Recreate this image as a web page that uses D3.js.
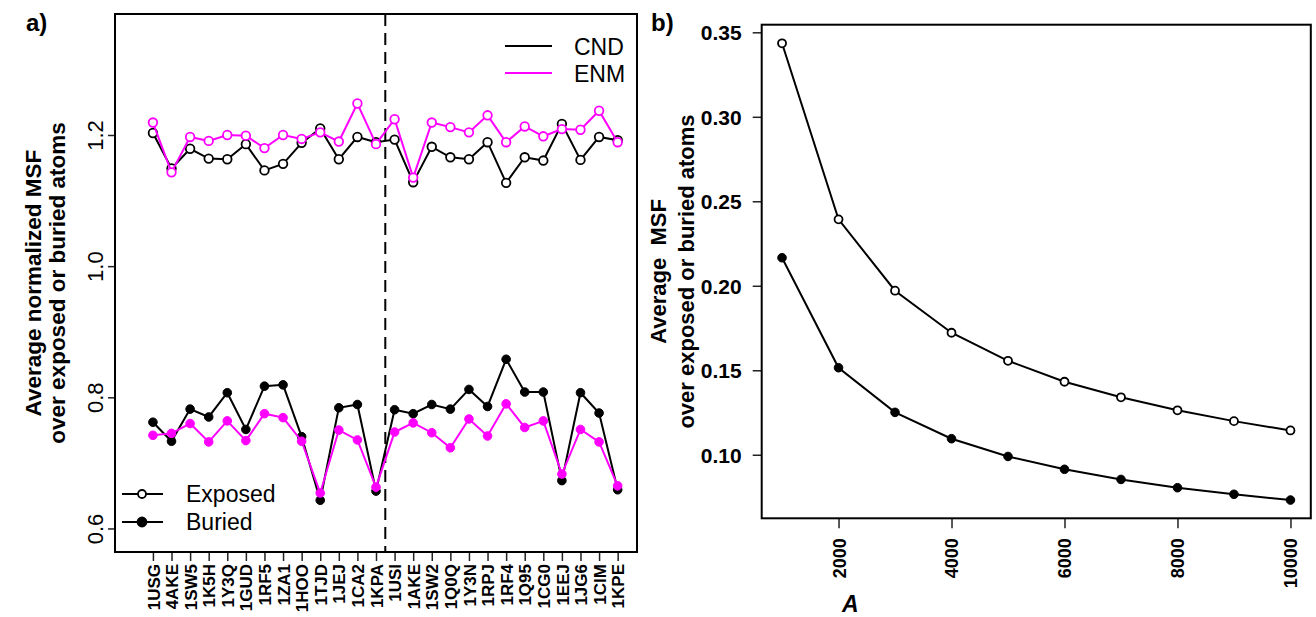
<!DOCTYPE html>
<html>
<head>
<meta charset="utf-8">
<script src="https://cdn.jsdelivr.net/npm/d3@7"></script>
<style>
  body { margin: 0; background: #fff; }
  svg { display: block; font-family: "Liberation Sans", Arial, sans-serif; }
</style>
</head>
<body>
<svg id="chart" width="1316" height="617"></svg>
<script>
// panel a) proteins, two groups split by the dashed line
const proteins = ["1USG", "4AKE", "1SW5", "1K5H", "1Y3Q", "1GUD", "1RF5", "1ZA1", "1HOO", "1TJD", "1JEJ", "1CA2", "1KPA",
                  "1USI", "1AKE", "1SW2", "1Q0Q", "1Y3N", "1RPJ", "1RF4", "1Q95", "1CG0", "1EEJ", "1JG6", "1CIM", "1KPE"];
const cndExposed = [1.203, 1.149, 1.179, 1.164, 1.163, 1.186, 1.146, 1.156, 1.188, 1.210, 1.163, 1.197, 1.189,
                    1.193, 1.128, 1.182, 1.166, 1.163, 1.189, 1.127, 1.166, 1.161, 1.217, 1.162, 1.197, 1.192];
const enmExposed = [1.219, 1.143, 1.197, 1.191, 1.200, 1.199, 1.180, 1.200, 1.194, 1.204, 1.190, 1.248, 1.186,
                    1.224, 1.135, 1.219, 1.212, 1.204, 1.230, 1.189, 1.213, 1.198, 1.209, 1.208, 1.237, 1.189];
const cndBuried = [0.762, 0.733, 0.782, 0.770, 0.807, 0.751, 0.817, 0.819, 0.740, 0.643, 0.784, 0.789, 0.657,
                   0.781, 0.775, 0.789, 0.782, 0.812, 0.786, 0.858, 0.808, 0.808, 0.673, 0.807, 0.776, 0.659];
const enmBuried = [0.742, 0.745, 0.760, 0.732, 0.764, 0.734, 0.775, 0.769, 0.733, 0.654, 0.750, 0.735, 0.663,
                   0.747, 0.761, 0.746, 0.723, 0.767, 0.741, 0.790, 0.754, 0.764, 0.683, 0.751, 0.732, 0.665];
const leftTicks = [0.6, 0.8, 1.0, 1.2];

// panel b) average MSF against A
const sizeA = [1000, 2000, 3000, 4000, 5000, 6000, 7000, 8000, 9000, 10000];
const msfExposed = [0.3435, 0.2393, 0.1971, 0.1722, 0.1556, 0.1432, 0.1340, 0.1263, 0.1199, 0.1144];
const msfBuried = [0.2166, 0.1515, 0.1251, 0.1095, 0.0990, 0.0914, 0.0854, 0.0805, 0.0766, 0.0732];
const rightYTicks = [0.10, 0.15, 0.20, 0.25, 0.30, 0.35];
const rightXTicks = [2000, 4000, 6000, 8000, 10000];

const MAGENTA = "#ff00ff";
const svg = d3.select("#chart");

function drawBox(x0, x1, y0, y1) {
    svg.append("rect")
        .attr("x", x0).attr("y", y0)
        .attr("width", x1 - x0).attr("height", y1 - y0)
        .attr("fill", "none").attr("stroke", "#000").attr("stroke-width", 2);
}

function styleAxis(g) {
    g.select(".domain").remove();
    g.selectAll(".tick line").attr("stroke", "#222").attr("stroke-width", 1.5);
    g.selectAll(".tick text").attr("fill", "#000");
}

function drawSeries(xs, ys, xScale, yScale, color, filled, r) {
    const pts = xs.map((x, i) => [xScale(x), yScale(ys[i])]);
    svg.append("path")
        .attr("d", d3.line()(pts))
        .attr("fill", "none").attr("stroke", color).attr("stroke-width", 2);
    svg.append("g").selectAll("circle")
        .data(pts)
        .enter().append("circle")
        .attr("cx", d => d[0]).attr("cy", d => d[1])
        .attr("r", r)
        .attr("fill", filled ? color : "#fff")
        .attr("stroke", color).attr("stroke-width", filled ? 1 : 1.8);
}

// ---------- panel a ----------
const L = { left: 115, right: 637, top: 14, bottom: 552 };
const xL = d3.scaleLinear().domain([-1.04, 27.04]).range([L.left, L.right]);
const yL = d3.scaleLinear().domain([0.5641, 1.3845]).range([L.bottom, L.top]);
const idx = proteins.map((p, i) => i + 1);

const axL = svg.append("g").attr("transform", `translate(${L.left},0)`)
    .call(d3.axisLeft(yL).tickValues(leftTicks).tickSize(7).tickFormat(d3.format(".1f")));
styleAxis(axL);
axL.selectAll(".tick text")
    .attr("transform", "rotate(-90)")
    .attr("x", 0).attr("y", -12).attr("dy", 0)
    .attr("text-anchor", "middle")
    .style("font-size", "22px");

const axB = svg.append("g").attr("transform", `translate(0,${L.bottom})`)
    .call(d3.axisBottom(xL).tickValues(idx).tickSize(9).tickFormat(i => proteins[i - 1]));
styleAxis(axB);
axB.selectAll(".tick text")
    .attr("transform", "rotate(-90)")
    .attr("x", -12).attr("y", 0).attr("dy", "0.36em")
    .attr("text-anchor", "end")
    .style("font-size", "17px").style("font-weight", "bold");

// dashed separator between the two protein groups
svg.append("line")
    .attr("x1", xL(13.5)).attr("x2", xL(13.5))
    .attr("y1", L.top).attr("y2", L.bottom)
    .attr("stroke", "#000").attr("stroke-width", 2).attr("stroke-dasharray", "12,7");

drawSeries(idx, cndExposed, xL, yL, "#000", false, 4.3);
drawSeries(idx, enmExposed, xL, yL, MAGENTA, false, 4.3);
drawSeries(idx, cndBuried, xL, yL, "#000", true, 4.3);
drawSeries(idx, enmBuried, xL, yL, MAGENTA, true, 4.3);
drawBox(L.left, L.right, L.top, L.bottom);

// legends of panel a
const legMethods = [["CND", "#000"], ["ENM", MAGENTA]];
legMethods.forEach(([name, col], i) => {
    const y = 46 + i * 27;
    svg.append("line").attr("x1", 505).attr("x2", 552).attr("y1", y).attr("y2", y)
        .attr("stroke", col).attr("stroke-width", 2);
    svg.append("text").attr("x", 574).attr("y", y + 9).text(name)
        .style("font-size", "23px");
});
const legTypes = [["Exposed", false], ["Buried", true]];
legTypes.forEach(([name, filled], i) => {
    const y = 494 + i * 28;
    svg.append("line").attr("x1", 122).attr("x2", 163).attr("y1", y).attr("y2", y)
        .attr("stroke", "#000").attr("stroke-width", 2);
    svg.append("circle").attr("cx", 142).attr("cy", y).attr("r", filled ? 4.5 : 4)
        .attr("fill", filled ? "#000" : "#fff").attr("stroke", "#000").attr("stroke-width", 1.8);
    svg.append("text").attr("x", 186).attr("y", y + 8).text(name)
        .style("font-size", "23px");
});

svg.append("text")
    .attr("transform", `translate(33,${(L.top + L.bottom) / 2}) rotate(-90)`)
    .attr("text-anchor", "middle")
    .style("font-size", "22.5px").style("font-weight", "bold")
    .selectAll("tspan")
    .data(["Average normalized MSF", "over exposed or buried atoms"])
    .enter().append("tspan")
    .attr("x", 0).attr("dy", (d, i) => i === 0 ? "0.35em" : "24px")
    .text(d => d);

svg.append("text").attr("x", 26).attr("y", 31).text("a)")
    .style("font-size", "24px").style("font-weight", "bold");

// ---------- panel b ----------
const R = { left: 761.7, right: 1310.8, top: 24.7, bottom: 518.3 };
const xR = d3.scaleLinear().domain([640, 10360]).range([R.left, R.right]);
const yR = d3.scaleLinear().domain([0.0624, 0.3545]).range([R.bottom, R.top]);

const axRL = svg.append("g").attr("transform", `translate(${R.left},0)`)
    .call(d3.axisLeft(yR).tickValues(rightYTicks).tickSize(9).tickPadding(11).tickFormat(d3.format(".2f")));
styleAxis(axRL);
axRL.selectAll(".tick text").attr("dy", "0.36em")
    .style("font-size", "21px").style("font-weight", "bold");

const axRB = svg.append("g").attr("transform", `translate(0,${R.bottom})`)
    .call(d3.axisBottom(xR).tickValues(rightXTicks).tickSize(10).tickFormat(d3.format("d")));
styleAxis(axRB);
axRB.selectAll(".tick text")
    .attr("transform", "rotate(-90)")
    .attr("x", -20).attr("y", 0).attr("dy", "0.36em")
    .attr("text-anchor", "end")
    .style("font-size", "18px").style("font-weight", "bold");

drawSeries(sizeA, msfExposed, xR, yR, "#000", false, 4);
drawSeries(sizeA, msfBuried, xR, yR, "#000", true, 4.3);
drawBox(R.left, R.right, R.top, R.bottom);

svg.append("text")
    .attr("transform", `translate(658,${(R.top + R.bottom) / 2}) rotate(-90)`)
    .attr("text-anchor", "middle")
    .style("font-size", "22px").style("font-weight", "bold")
    .selectAll("tspan")
    .data(["Average  MSF", "over exposed or buried atoms"])
    .enter().append("tspan")
    .attr("x", 0).attr("dy", (d, i) => i === 0 ? "0.35em" : "28px")
    .style("white-space", "pre")
    .text(d => d);

svg.append("text").attr("x", (R.left + R.right) / 2 - 186).attr("y", 612)
    .attr("text-anchor", "middle").text("A")
    .style("font-size", "23px").style("font-weight", "bold").style("font-style", "italic");

svg.append("text").attr("x", 651).attr("y", 31).text("b)")
    .style("font-size", "24px").style("font-weight", "bold");
</script>
</body>
</html>
